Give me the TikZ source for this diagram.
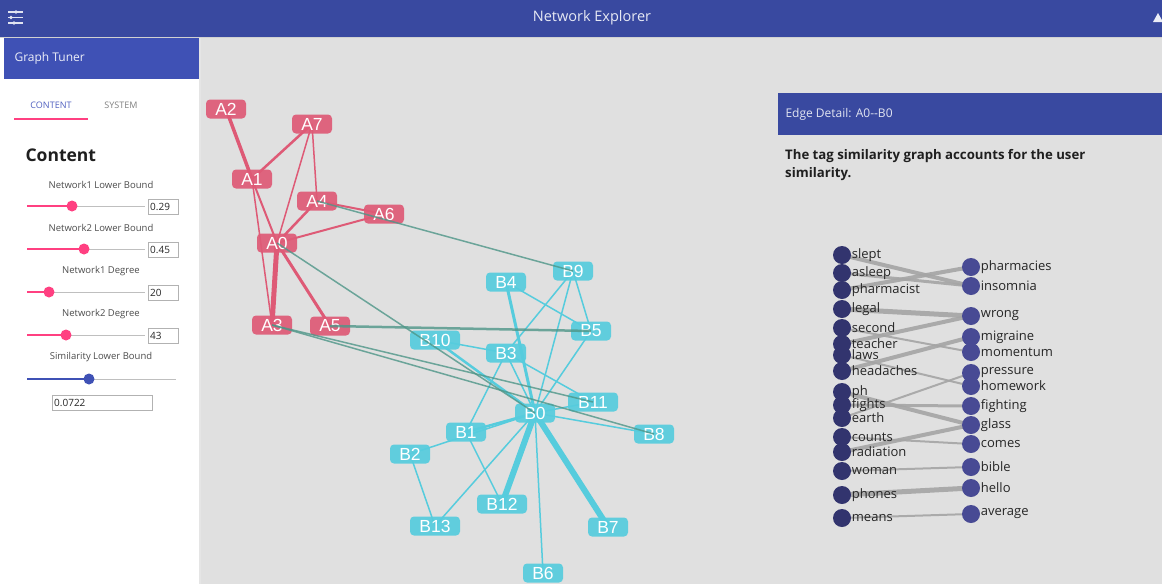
\documentclass[tikz,border=0pt]{standalone}
\usepackage{fontspec}
\setmainfont{Open Sans}
\newfontfamily\arialf{Liberation Sans}
\pgfdeclarelayer{panel}
\pgfdeclarelayer{under}
\pgfsetlayers{panel,under,main}
\definecolor{topbar}{RGB}{57,73,160}
\definecolor{hdr}{RGB}{63,81,181}
\definecolor{canvas}{RGB}{224,224,224}
\definecolor{nred}{RGB}{222,90,118}
\definecolor{ncyan}{RGB}{86,204,221}
\definecolor{xteal}{RGB}{78,150,136}
\definecolor{pinkc}{RGB}{255,64,129}
\definecolor{ldot}{RGB}{50,52,110}
\definecolor{rdot}{RGB}{72,74,148}
\definecolor{bedge}{RGB}{165,165,165}
\definecolor{tabblue}{RGB}{80,96,192}
\tikzset{
  gnode/.style={rounded corners=4pt, minimum width=40pt, minimum height=19pt, inner sep=1pt, text=white, fill opacity=0.92, text opacity=1, font=\arialf\fontsize{17.5}{17.5}\selectfont},
  anode/.style={gnode, fill=nred},
  bnode/.style={gnode, fill=ncyan},
  wide/.style={minimum width=50pt},
  redge/.style={draw=nred},
  cedge/.style={draw=ncyan},
  tedge/.style={draw=xteal, opacity=0.8},
  knob/.style={circle, inner sep=0pt, minimum size=11pt},
  track/.style={draw=black!25, line width=1pt},
  inbox/.style={draw=black!30, fill=white, inner sep=2pt, minimum height=15pt, align=left, font=\fontsize{10}{11}\selectfont, text=black!85},
  slab/.style={font=\fontsize{9.5}{10}\selectfont, text=black!70},
  ldotc/.style={circle, fill=ldot, inner sep=0pt, minimum size=18pt},
  rdotc/.style={circle, fill=rdot, inner sep=0pt, minimum size=18pt},
  lbl/.style={inner sep=0.5pt, font=\fontsize{13}{13}\selectfont, text=black!85},
  bline/.style={draw=bedge, opacity=0.9},
}
\begin{document}
\begin{tikzpicture}[x=1pt,y=-1pt]
\useasboundingbox (0,0) rectangle (1162,584);
\begin{pgfonlayer}{panel}
  \fill[canvas] (0,0) rectangle (1162,584);
  \fill[white] (0,37) rectangle (199,584);
  \fill[black!10] (199,37) rectangle (201,584);
  \fill[topbar] (0,0) rectangle (1162,37);
  \fill[black!18] (0,37) rectangle (1162,38);
  \fill[hdr] (4,38) rectangle (199,79);
  % right panel
  \fill[black!12] (777,92) rectangle (1162,583);
  \fill[canvas] (778,93) rectangle (1162,581);
  \fill[topbar] (778,93) rectangle (1162,135);
\end{pgfonlayer}
% top bar
\node[text=white!88!topbar, font=\fontsize{14.5}{15}\selectfont] (title) at (592,18) {Network Explorer};
\foreach \yy/\kx in {12/16,17.5/11,23/14}{
  \draw[white!85!topbar, line width=1.3pt] (8,\yy) -- (23,\yy);
  \fill[white!85!topbar] (\kx,\yy) circle (1.8pt);
}
\fill[white!90!topbar] (1153,22) -- (1158,13) -- (1163,22) -- cycle;
% left panel
\node[anchor=west, text=white!90!hdr, font=\fontsize{12}{12}\selectfont] (gt) at (11,58) {Graph Tuner};
\node[text=tabblue, font=\fontsize{9}{9}\selectfont] (tab1) at (51,105) {CONTENT};
\node[text=black!50, font=\fontsize{9}{9}\selectfont] (tab2) at (121,105) {SYSTEM};
\draw[pinkc, line width=1.5pt] (14,119) -- (88,119);
\node[anchor=west, font=\bfseries\fontsize{17.5}{18}\selectfont, text=black!88] (ctitle) at (22,155) {Content};
% sliders
\node[slab] (s1) at (101,185) {Network1 Lower Bound};
\draw[track] (27,206) -- (145,206);
\draw[pinkc, line width=1.3pt] (27,206) -- (72,206);
\node[knob, fill=pinkc] (k1) at (72,206) {};
\node[inbox, anchor=west, text width=26pt] (v1) at (148,206.5) {0.29};
\node[slab] (s2) at (101,228) {Network2 Lower Bound};
\draw[track] (27,249) -- (145,249);
\draw[pinkc, line width=1.3pt] (27,249) -- (84,249);
\node[knob, fill=pinkc] (k2) at (84,249) {};
\node[inbox, anchor=west, text width=26pt] (v2) at (148,249.5) {0.45};
\node[slab] (s3) at (101,271) {Network1 Degree};
\draw[track] (27,292) -- (145,292);
\draw[pinkc, line width=1.3pt] (27,292) -- (49,292);
\node[knob, fill=pinkc] (k3) at (49,292) {};
\node[inbox, anchor=west, text width=26pt] (v3) at (148,292.5) {20};
\node[slab] (s4) at (101,314) {Network2 Degree};
\draw[track] (27,335) -- (145,335);
\draw[pinkc, line width=1.3pt] (27,335) -- (66,335);
\node[knob, fill=pinkc] (k4) at (66,335) {};
\node[inbox, anchor=west, text width=26pt] (v4) at (148,335.5) {43};
\node[slab] (s5) at (101,357) {Similarity Lower Bound};
\draw[track] (27,379) -- (176,379);
\draw[hdr, line width=1.3pt] (27,379) -- (89,379);
\node[knob, fill=hdr] (k5) at (89,379) {};
\node[inbox, anchor=west, text width=96pt] (v5) at (52,402.5) {0.0722};
% graph nodes A
\node[anode] (a2) at (226,109) {A2};
\node[anode] (a7) at (312,124) {A7};
\node[anode] (a1) at (252,179) {A1};
\node[anode] (a4) at (317,201) {A4};
\node[anode] (a6) at (384,214) {A6};
\node[anode] (a0) at (277,243) {A0};
\node[anode] (a3) at (272,325) {A3};
\node[anode] (a5) at (330,326) {A5};
% graph nodes B
\node[bnode] (b9) at (573,271) {B9};
\node[bnode] (b4) at (506,282) {B4};
\node[bnode] (b5) at (591,331) {B5};
\node[bnode, wide] (b10) at (435,340) {B10};
\node[bnode] (b3) at (506,353) {B3};
\node[bnode, wide] (b11) at (593,402) {B11};
\node[bnode] (b0) at (535,413) {B0};
\node[bnode] (b8) at (654,434) {B8};
\node[bnode] (b1) at (466,432) {B1};
\node[bnode] (b2) at (410,454) {B2};
\node[bnode, wide] (b12) at (502,504) {B12};
\node[bnode, wide] (b13) at (435,526) {B13};
\node[bnode] (b7) at (608,527) {B7};
\node[bnode] (b6) at (543,573) {B6};
\begin{pgfonlayer}{under}
% red edges
\draw[redge, line width=3.5pt] (a2.center) -- (a1.center);
\draw[redge, line width=2.5pt] (a7.center) -- (a1.center);
\draw[redge, line width=1.5pt] (a7.center) -- (a0.center);
\draw[redge, line width=1.5pt] (a7.center) -- (a4.center);
\draw[redge, line width=2pt] (a1.center) -- (a0.center);
\draw[redge, line width=1.5pt] (a1.center) -- (a3.center);
\draw[redge, line width=2.5pt] (a4.center) -- (a0.center);
\draw[redge, line width=2pt] (a4.center) -- (a6.center);
\draw[redge, line width=2pt] (a6.center) -- (a0.center);
\draw[redge, line width=5pt] (a0.center) -- (a3.center);
\draw[redge, line width=3pt] (a0.center) -- (a5.center);
% cyan edges
\draw[cedge, line width=1.5pt] (b9.center) -- (b3.center);
\draw[cedge, line width=1.5pt] (b9.center) -- (b0.center);
\draw[cedge, line width=1.5pt] (b9.center) -- (b5.center);
\draw[cedge, line width=1.5pt] (b4.center) -- (b5.center);
\draw[cedge, line width=3pt] (b4.center) -- (b0.center);
\draw[cedge, line width=1.5pt] (b10.center) -- (b3.center);
\draw[cedge, line width=2.5pt] (b10.center) -- (b0.center);
\draw[cedge, line width=1.5pt] (b3.center) -- (b1.center);
\draw[cedge, line width=1.5pt] (b3.center) -- (b0.center);
\draw[cedge, line width=1.5pt] (b3.center) -- (b11.center);
\draw[cedge, line width=1.5pt] (b5.center) -- (b0.center);
\draw[cedge, line width=1.5pt] (b11.center) -- (b0.center);
\draw[cedge, line width=1.5pt] (b0.center) -- (b8.center);
\draw[cedge, line width=2.5pt] (b0.center) -- (b1.center);
\draw[cedge, line width=1.5pt] (b2.center) -- (b0.center);
\draw[cedge, line width=1.5pt] (b1.center) -- (b12.center);
\draw[cedge, line width=1.5pt] (b2.center) -- (b13.center);
\draw[cedge, line width=1.5pt] (b13.center) -- (b0.center);
\draw[cedge, line width=6pt] (b12.center) -- (b0.center);
\draw[cedge, line width=6pt] (b7.center) -- (b0.center);
\draw[cedge, line width=1.5pt] (b6.center) -- (b0.center);
\end{pgfonlayer}
% teal edges (drawn over the nodes)
\draw[tedge, line width=1.5pt] (a4.center) -- (b9.center);
\draw[tedge, line width=1.5pt] (a0.center) -- (b0.center);
\draw[tedge, line width=2.5pt] (a5.center) -- (b5.center);
\draw[tedge, line width=1.5pt] (a3.center) -- (b11.center);
\draw[tedge, line width=1.5pt] (a3.center) -- (b8.center);
% right panel texts
\node[anchor=west, text=white!85!topbar, font=\fontsize{12}{12}\selectfont] (ed) at (782,114) {Edge Detail: A0-{}-B0};
\node[anchor=north west, align=left, font=\bfseries\fontsize{13.2}{18}\selectfont, text=black!88, inner sep=0pt] (desc) at (785,149) {The tag similarity graph accounts for the user\\similarity.};
% bipartite left
\foreach \nm/\yy in {slept/255,asleep/273,pharmacist/290,legal/309,second/328,teacher/344,laws/355,headaches/371,ph/392,fights/405,earth/418,counts/437,radiation/452,woman/471,phones/495,means/518}{
  \node[ldotc, label={[lbl]right:\nm}] (l-\nm) at (842,\yy) {};
}
\foreach \nm/\yy in {pharmacies/267,insomnia/286,wrong/316,migraine/337,momentum/352,pressure/373,homework/386,fighting/406,glass/425,comes/444,bible/467,hello/488,average/514}{
  \node[rdotc, label={[lbl]right:\nm}] (r-\nm) at (971,\yy) {};
}
\begin{pgfonlayer}{under}
\draw[bline, line width=4pt] (l-slept.center) -- (r-insomnia.center);
\draw[bline, line width=3pt] (l-asleep.center) -- (r-insomnia.center);
\draw[bline, line width=4pt] (l-pharmacist.center) -- (r-pharmacies.center);
\draw[bline, line width=5pt] (l-legal.center) -- (r-wrong.center);
\draw[bline, line width=4pt] (l-teacher.center) -- (r-wrong.center);
\draw[bline, line width=2pt] (l-second.center) -- (r-momentum.center);
\draw[bline, line width=2pt] (l-laws.center) -- (r-homework.center);
\draw[bline, line width=4pt] (l-headaches.center) -- (r-migraine.center);
\draw[bline, line width=4pt] (l-ph.center) -- (r-glass.center);
\draw[bline, line width=3pt] (l-fights.center) -- (r-fighting.center);
\draw[bline, line width=2pt] (l-earth.center) -- (r-pressure.center);
\draw[bline, line width=2pt] (l-counts.center) -- (r-comes.center);
\draw[bline, line width=4pt] (l-radiation.center) -- (r-glass.center);
\draw[bline, line width=2pt] (l-woman.center) -- (r-bible.center);
\draw[bline, line width=5pt] (l-phones.center) -- (r-hello.center);
\draw[bline, line width=2pt] (l-means.center) -- (r-average.center);
\end{pgfonlayer}
\end{tikzpicture}
\end{document}
